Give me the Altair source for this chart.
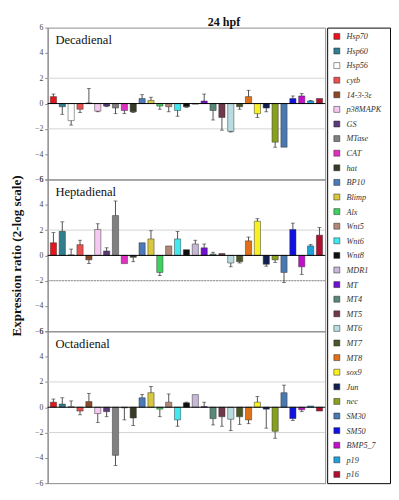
import altair as alt
import pandas as pd

genes = ["Hsp70", "Hsp60", "Hsp56", "cytb", "14-3-3ε", "p38MAPK", "GS", "MTase", "CAT", "hat",
         "BP10", "Blimp", "Alx", "Wnt5", "Wnt6", "Wnt8", "MDR1", "MT", "MT4", "MT5",
         "MT6", "MT7", "MT8", "sox9", "Jun", "nec", "SM30", "SM50", "BMP5_7", "p19", "p16"]
colors = ["#e8141c", "#2f7f8f", "#ffffff", "#e8504e", "#8a4a26", "#f5c8f0", "#5a3a78", "#808080", "#e030c0", "#3a3a28",
          "#4a7ab8", "#d8c840", "#40d060", "#b08878", "#40e8f0", "#101010", "#c8b8d8", "#7010d0", "#5a8878", "#703848",
          "#b8dce0", "#4a5828", "#e07018", "#f8f020", "#102050", "#88a020", "#4a78b0", "#1010e0", "#c010c8", "#20a0d8", "#b01030"]

panels = ["Decadienal", "Heptadienal", "Octadienal"]

dec_vals = [0.55, -0.25, -1.35, -0.45, 0.05, -0.6, -0.2, -0.35, -0.55, -0.65,
            0.4, 0.25, -0.2, -0.25, -0.55, -0.25, -0.05, 0.2, -0.55, -1.1,
            -2.2, -0.25, 0.55, -0.8, -0.35, -3.05, -3.45, 0.4, 0.6, 0.2, 0.4]
dec_err = [0.2, 0.6, 0.35, 0.25, 1.15, 0.05, 0.05, 0.45, 0.25, 0.05,
           0.3, 0.25, 0.25, 0.4, 0.45, 0.05, 0.0, 0.55, 0.75, 1.0,
           0.05, 0.2, 0.5, 0.3, 0.3, 0.4, 0.0, 0.2, 0.2, 0.05, 0.0]

hep_vals = [1.0, 1.9, 0.05, 0.85, -0.35, 2.05, 0.35, 3.15, -0.65, -0.15,
            1.0, 1.3, -1.35, 0.75, 1.3, 0.45, 0.9, 0.6, 0.1, 0.15,
            -0.6, -0.5, 1.15, 2.7, -0.7, -0.35, -1.35, 2.05, -0.9, 0.75, 1.6]
hep_err = [0.8, 0.75, 0.45, 0.35, 0.3, 0.45, 0.25, 1.15, 0.0, 0.35,
           0.0, 0.65, 0.25, 0.0, 0.6, 0.0, 0.3, 0.3, 0.15, 0.0,
           0.3, 0.1, 0.3, 0.2, 0.15, 0.2, 0.8, 0.5, 0.6, 0.1, 0.6]

oct_vals = [0.4, 0.25, 0.05, -0.3, 0.45, -0.5, -0.35, -3.8, -0.05, -0.85,
            0.75, 1.15, -0.15, 0.4, -1.0, 0.35, 1.0, 0.05, -0.9, -0.75,
            -0.95, -0.75, -1.0, 0.4, -0.15, -1.9, 1.15, -0.9, -0.2, 0.1, -0.3]
oct_err = [0.25, 0.5, 0.45, 0.3, 0.65, 0.7, 0.4, 0.8, 0.95, 0.6,
           0.25, 0.5, 0.6, 0.65, 0.5, 0.05, 0.0, 0.35, 0.5, 0.75,
           0.9, 0.6, 0.3, 0.45, 1.5, 0.55, 0.6, 0.15, 0.15, 0.0, 0.0]

y_ticks = [-6, -4, -2, 0, 2, 4, 6]
ref_lines = [-2, 2]

FONT = "Liberation Serif"
PW, PH = 287, 157

color_scale = alt.Scale(domain=genes, range=colors)
x_scale = alt.Scale(domain=genes, paddingInner=0.3, paddingOuter=0.3)
y_scale = alt.Scale(domain=[-6, 6], nice=False, zero=False)


def panel(name, vals, errs, idx):
    rows = []
    for g, v, e in zip(genes, vals, errs):
        s = 1 if v >= 0 else -1
        rows.append({"gene": g, "value": v, "end": v + s * e, "has_err": e > 0})
    df = pd.DataFrame(rows)
    show_title = idx == 1
    yaxis = alt.Axis(values=y_ticks, grid=False, labelFont=FONT, labelFontSize=8, labelColor="#444",
                     labelOverlap=False, tickSize=3, tickColor="#888", domainColor="#888",
                     title="Expression ratio (2-log scale)",
                     titleFont=FONT, titleFontSize=13.5, titleFontWeight="bold", titleColor="#111",
                     titlePadding=12, titleOpacity=1 if show_title else 0)
    base = alt.Chart(df)
    ref_df = pd.DataFrame({"r": ref_lines, "dash": [idx == 1, False]})
    grid = alt.Chart(ref_df).mark_rule(color="#c8c8c8", strokeWidth=0.8).encode(
        y=alt.Y("r:Q", scale=y_scale, axis=yaxis))
    grid_dash = alt.Chart(ref_df).transform_filter("datum.dash").mark_rule(
        color="#777", strokeWidth=0.8, strokeDash=[2, 1]).encode(
        y=alt.Y("r:Q", scale=y_scale, axis=yaxis))
    zero = alt.Chart(pd.DataFrame({"z": [0]})).mark_rule(color="#000", strokeWidth=1).encode(
        y=alt.Y("z:Q", scale=y_scale, axis=yaxis))
    bars = base.mark_bar(stroke="#333", strokeWidth=0.5).encode(
        x=alt.X("gene:N", sort=genes, scale=x_scale, axis=None),
        y=alt.Y("value:Q", scale=y_scale, axis=yaxis),
        color=alt.Color("gene:N", scale=color_scale, legend=None),
    )
    eb = base.transform_filter("datum.has_err").mark_rule(color="#222", strokeWidth=0.8).encode(
        x=alt.X("gene:N", sort=genes, scale=x_scale, axis=None),
        y=alt.Y("value:Q", scale=y_scale, axis=yaxis),
        y2="end:Q",
    )
    cap = base.transform_filter("datum.has_err").mark_tick(color="#222", thickness=0.8, size=4).encode(
        x=alt.X("gene:N", sort=genes, scale=x_scale, axis=None),
        y=alt.Y("end:Q", scale=y_scale, axis=yaxis),
    )
    label = alt.Chart(pd.DataFrame({"t": [name]})).mark_text(
        align="left", baseline="middle", font=FONT, fontSize=13, color="#111").encode(
        x=alt.value(8), y=alt.value(13), text="t:N")
    return alt.layer(grid, grid_dash, bars, eb, cap, zero, label).properties(
        width=PW, height=PH, view=alt.ViewBackground(stroke="#888"))


left = alt.vconcat(
    panel(panels[0], dec_vals, dec_err, 0),
    panel(panels[1], hep_vals, hep_err, 1),
    panel(panels[2], oct_vals, oct_err, 2),
    spacing=0, bounds="flush",
)

leg_df = pd.DataFrame({"gene": genes})
leg_y = alt.Y("gene:N", sort=genes, axis=None, scale=alt.Scale(domain=genes, padding=0.6))
leg_sq = alt.Chart(leg_df).mark_square(size=38, stroke="#222", strokeWidth=0.5, opacity=1).encode(
    y=leg_y, x=alt.value(10), color=alt.Color("gene:N", scale=color_scale, legend=None))
leg_tx = alt.Chart(leg_df).mark_text(align="left", baseline="middle", font=FONT, fontSize=8.5,
                                      fontStyle="italic", color="#333").encode(
    y=leg_y, x=alt.value(20), text="gene:N")
legend = alt.layer(leg_sq, leg_tx).properties(
    width=65, height=3 * PH, view=alt.ViewBackground(stroke="#000", strokeWidth=1))

chart = alt.hconcat(left, legend, spacing=0).properties(
    title=alt.TitleParams("24 hpf", font=FONT, fontSize=12.5, fontWeight="bold", color="#111",
                          anchor="middle", offset=-6, dx=25),
    padding={"left": 0, "top": 0, "right": 0, "bottom": 0},
).configure_view(strokeWidth=1)

chart.save("out.html", embed_options={"renderer": "svg", "actions": False})
